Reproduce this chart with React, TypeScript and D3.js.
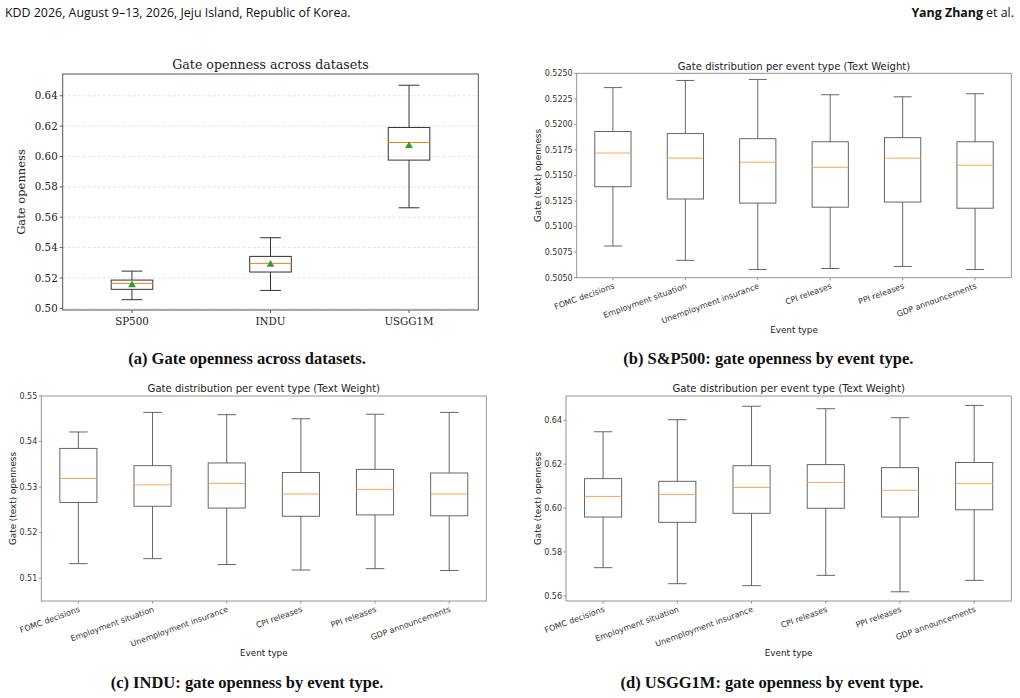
import * as d3 from "d3";

// ---- panel (a): gate openness across datasets ----
const datasets = ["SP500", "INDU", "USGG1M"];
const dsLow = [0.5057, 0.5118, 0.5662];
const dsQ1 = [0.5125, 0.5239, 0.5976];
const dsMedian = [0.5164, 0.5296, 0.6092];
const dsQ3 = [0.5186, 0.5342, 0.6191];
const dsHigh = [0.5245, 0.5465, 0.6469];
const dsMean = [0.5153, 0.5289, 0.607];
const dsTicks = [0.5, 0.52, 0.54, 0.56, 0.58, 0.6, 0.62, 0.64];

// ---- panels (b)-(d): per event type ----
const eventTypes = [
  "FOMC decisions",
  "Employment situation",
  "Unemployment insurance",
  "CPI releases",
  "PPI releases",
  "GDP announcements",
];

const spLow = [0.5081, 0.5067, 0.5058, 0.5059, 0.5061, 0.5058];
const spQ1 = [0.5139, 0.5127, 0.5123, 0.5119, 0.5124, 0.5118];
const spMedian = [0.5172, 0.5167, 0.5163, 0.5158, 0.5167, 0.516];
const spQ3 = [0.5193, 0.5191, 0.5186, 0.5183, 0.5187, 0.5183];
const spHigh = [0.5236, 0.5243, 0.5244, 0.5229, 0.5227, 0.523];
const spTicks = [0.505, 0.5075, 0.51, 0.5125, 0.515, 0.5175, 0.52, 0.5225, 0.525];

const induLow = [0.5132, 0.5143, 0.513, 0.5118, 0.5121, 0.5117];
const induQ1 = [0.5266, 0.5258, 0.5254, 0.5236, 0.5239, 0.5237];
const induMedian = [0.5319, 0.5305, 0.5308, 0.5285, 0.5295, 0.5285];
const induQ3 = [0.5385, 0.5347, 0.5353, 0.5332, 0.5339, 0.5331];
const induHigh = [0.5421, 0.5464, 0.5459, 0.545, 0.546, 0.5464];
const induTicks = [0.51, 0.52, 0.53, 0.54, 0.55];

const usLow = [0.5728, 0.5655, 0.5646, 0.5693, 0.5618, 0.567];
const usQ1 = [0.5959, 0.5935, 0.5976, 0.5999, 0.5959, 0.5992];
const usMedian = [0.6053, 0.6062, 0.6094, 0.6117, 0.6081, 0.6111];
const usQ3 = [0.6134, 0.6122, 0.6193, 0.6198, 0.6184, 0.6208];
const usHigh = [0.6348, 0.6403, 0.6464, 0.6453, 0.6412, 0.6468];
const usTicks = [0.56, 0.58, 0.6, 0.62, 0.64];

const SERIF = "'DejaVu Serif', serif";
const SANS = "'DejaVu Sans', sans-serif";
const CAPTION = "'Liberation Serif', serif";
const HEADER = "'Open Sans', 'DejaVu Sans', sans-serif";

type Box = { low: number; q1: number; med: number; q3: number; high: number; mean?: number };

function zipBoxes(low: number[], q1: number[], med: number[], q3: number[], high: number[], mean?: number[]): Box[] {
  return low.map((l, i) => ({ low: l, q1: q1[i], med: med[i], q3: q3[i], high: high[i], mean: mean?.[i] }));
}

function DatasetPanel() {
  const left = 62.7, right = 478.3, top = 74, bottom = 310;
  const x = d3.scaleLinear().domain([0.5, datasets.length + 0.5]).range([left, right]);
  const y = d3.scaleLinear().domain([0.4989, 0.6543]).range([bottom, top]);
  const boxes = zipBoxes(dsLow, dsQ1, dsMedian, dsQ3, dsHigh, dsMean);
  const half = 0.15;
  const tri = d3.symbol(d3.symbolTriangle, 26)();
  const fmt = d3.format(".2f");
  return (
    <g>
      {dsTicks.map((t) => (
        <g key={t}>
          <line x1={left} x2={right} y1={y(t)} y2={y(t)} stroke="#dadada" strokeWidth={0.7} strokeDasharray="3,2" />
          <line x1={left - 3} x2={left} y1={y(t)} y2={y(t)} stroke="#333" strokeWidth={0.8} />
          <text x={left - 5} y={y(t)} dy="0.35em" textAnchor="end" fontFamily={SERIF} fontSize={10.3} fill="#222">
            {fmt(t)}
          </text>
        </g>
      ))}
      {boxes.map((b, i) => {
        const cx = x(i + 1);
        const w = x(1 + half) - x(1);
        return (
          <g key={datasets[i]}>
            <line x1={cx} x2={cx} y1={y(b.high)} y2={y(b.q3)} stroke="#333" strokeWidth={1} />
            <line x1={cx} x2={cx} y1={y(b.q1)} y2={y(b.low)} stroke="#333" strokeWidth={1} />
            <line x1={cx - w / 2} x2={cx + w / 2} y1={y(b.high)} y2={y(b.high)} stroke="#333" strokeWidth={1} />
            <line x1={cx - w / 2} x2={cx + w / 2} y1={y(b.low)} y2={y(b.low)} stroke="#333" strokeWidth={1} />
            <rect x={cx - w} y={y(b.q3)} width={w * 2} height={y(b.q1) - y(b.q3)} fill="none" stroke="#333" strokeWidth={1} />
            <line x1={cx - w} x2={cx + w} y1={y(b.med)} y2={y(b.med)} stroke="#ff7f0e" strokeWidth={1} />
            <path d={tri ?? ""} transform={`translate(${cx},${y(b.mean ?? b.med)})`} fill="#2ca02c" />
            <line x1={cx} x2={cx} y1={bottom} y2={bottom + 3} stroke="#333" strokeWidth={0.8} />
            <text x={cx} y={bottom + 14.5} textAnchor="middle" fontFamily={SERIF} fontSize={10.3} fill="#222">
              {datasets[i]}
            </text>
          </g>
        );
      })}
      <rect x={left} y={top} width={right - left} height={bottom - top} fill="none" stroke="#555" strokeWidth={1} />
      <text x={(left + right) / 2} y={69} textAnchor="middle" fontFamily={SERIF} fontSize={12.6} fill="#222">
        Gate openness across datasets
      </text>
      <text transform={`translate(20.7,${(top + bottom) / 2}) rotate(-90)`} dy="0.35em" textAnchor="middle" fontFamily={SERIF} fontSize={11.5} fill="#222">
        Gate openness
      </text>
    </g>
  );
}

type EventPanelProps = {
  left: number; right: number; top: number; bottom: number;
  domain: [number, number];
  ticks: number[];
  tickFormat: string;
  boxes: Box[];
  ylabelX: number;
};

function EventPanel({ left, right, top, bottom, domain, ticks, tickFormat, boxes, ylabelX }: EventPanelProps) {
  const x = d3.scaleLinear().domain([0.5, eventTypes.length + 0.5]).range([left, right]);
  const y = d3.scaleLinear().domain(domain).range([bottom, top]);
  const fmt = d3.format(tickFormat);
  const w = x(1.25) - x(1);
  const line = "#555";
  return (
    <g>
      {ticks.map((t) => (
        <g key={t}>
          <line x1={left - 2.5} x2={left} y1={y(t)} y2={y(t)} stroke="#777" strokeWidth={0.8} />
          <text x={left - 4} y={y(t)} dy="0.35em" textAnchor="end" fontFamily={SANS} fontSize={8} fill="#333">
            {fmt(t)}
          </text>
        </g>
      ))}
      {boxes.map((b, i) => {
        const cx = x(i + 1);
        return (
          <g key={eventTypes[i]}>
            <line x1={cx} x2={cx} y1={y(b.high)} y2={y(b.q3)} stroke={line} strokeWidth={0.9} />
            <line x1={cx} x2={cx} y1={y(b.q1)} y2={y(b.low)} stroke={line} strokeWidth={0.9} />
            <line x1={cx - w / 2} x2={cx + w / 2} y1={y(b.high)} y2={y(b.high)} stroke={line} strokeWidth={0.9} />
            <line x1={cx - w / 2} x2={cx + w / 2} y1={y(b.low)} y2={y(b.low)} stroke={line} strokeWidth={0.9} />
            <rect x={cx - w} y={y(b.q3)} width={w * 2} height={y(b.q1) - y(b.q3)} fill="none" stroke={line} strokeWidth={0.9} />
            <line x1={cx - w} x2={cx + w} y1={y(b.med)} y2={y(b.med)} stroke="#ffa451" strokeWidth={1} />
            <line x1={cx} x2={cx} y1={bottom} y2={bottom + 2.5} stroke="#777" strokeWidth={0.8} />
            <text
              transform={`translate(${cx},${bottom + 5}) rotate(-20)`}
              dy="0.72em"
              textAnchor="end"
              fontFamily={SANS}
              fontSize={8}
              fill="#333"
            >
              {eventTypes[i]}
            </text>
          </g>
        );
      })}
      <rect x={left} y={top} width={right - left} height={bottom - top} fill="none" stroke="#8a8a8a" strokeWidth={0.9} />
      <text x={(left + right) / 2} y={top - 3.8} textAnchor="middle" fontFamily={SANS} fontSize={10.1} fill="#222">
        Gate distribution per event type (Text Weight)
      </text>
      <text x={(left + right) / 2} y={bottom + 52} dy="0.35em" textAnchor="middle" fontFamily={SANS} fontSize={8.8} fill="#222">
        Event type
      </text>
      <text transform={`translate(${ylabelX},${(top + bottom) / 2}) rotate(-90)`} dy="0.35em" textAnchor="middle" fontFamily={SANS} fontSize={8.8} fill="#222">
        Gate (text) openness
      </text>
    </g>
  );
}

export default function App() {
  return (
    <svg width={1020} height={698} style={{ position: "absolute", left: 0, top: 0, background: "#fff" }}>
      <rect width={1020} height={698} fill="#fff" />
      <text x={5} y={17} fontFamily={HEADER} fontSize={12.4} fill="#111">
        KDD 2026, August 9–13, 2026, Jeju Island, Republic of Korea.
      </text>
      <text x={1014} y={17} textAnchor="end" fontFamily={HEADER} fontSize={12.4} fill="#111">
        <tspan fontWeight="bold">Yang Zhang</tspan> et al.
      </text>

      <DatasetPanel />
      <EventPanel
        left={576.7} right={1011.3} top={73.3} bottom={277.7}
        domain={[0.505, 0.525]} ticks={spTicks} tickFormat=".4f"
        boxes={zipBoxes(spLow, spQ1, spMedian, spQ3, spHigh)}
        ylabelX={538}
      />
      <EventPanel
        left={41.3} right={486.3} top={396} bottom={601}
        domain={[0.505, 0.55]} ticks={induTicks} tickFormat=".2f"
        boxes={zipBoxes(induLow, induQ1, induMedian, induQ3, induHigh)}
        ylabelX={12.7}
      />
      <EventPanel
        left={566} right={1011.3} top={396} bottom={601}
        domain={[0.5576, 0.6511]} ticks={usTicks} tickFormat=".2f"
        boxes={zipBoxes(usLow, usQ1, usMedian, usQ3, usHigh)}
        ylabelX={538.3}
      />

      <g fontFamily={CAPTION} fontWeight="bold" fontSize={16.5} fill="#111" textAnchor="middle">
        <text x={247} y={363.5}>(a) Gate openness across datasets.</text>
        <text x={768.3} y={363.5}>(b) S&amp;P500: gate openness by event type.</text>
        <text x={247} y={687.5}>(c) INDU: gate openness by event type.</text>
        <text x={772} y={687.5}>(d) USGG1M: gate openness by event type.</text>
      </g>
    </svg>
  );
}
